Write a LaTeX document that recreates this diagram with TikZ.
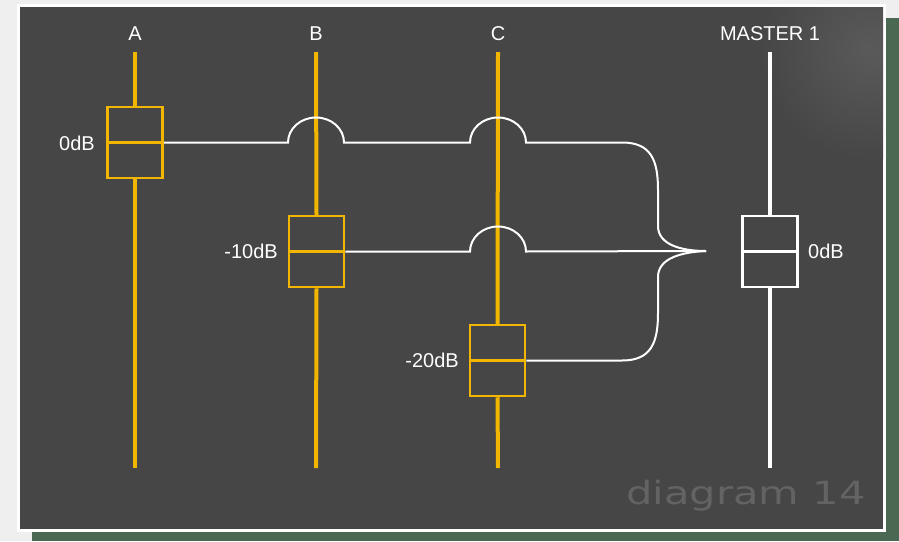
\documentclass[tikz,border=0pt]{standalone}
\usepackage{fontspec}
\setmainfont{Liberation Sans}
\newfontfamily\markfont{DejaVu Sans}
\definecolor{outerbg}{HTML}{EFEFEF}
\definecolor{shadowgreen}{HTML}{4A6852}
\definecolor{panel}{HTML}{464646}
\definecolor{panellight}{HTML}{5A5A5A}
\definecolor{fader}{HTML}{F2B600}
\definecolor{markgray}{HTML}{636363}
\begin{document}
\begin{tikzpicture}[x=1pt,y=-1pt,
  track/.style={line width=4pt},
  knob/.style={rectangle, line width=2.5pt, minimum width=55pt, minimum height=71pt, inner sep=0pt},
  lab/.style={text=white, inner sep=0pt, font=\fontsize{20}{20}\selectfont},
  wire/.style={draw=white, line width=2pt},
  hoparc/.style={start angle=180, end angle=0, x radius=28pt, y radius=25pt}]
\useasboundingbox (0,0) rectangle (899,541);
\fill[outerbg] (0,0) rectangle (899,541);
\fill[shadowgreen] (32,18) rectangle (899,541);
\fill[white] (17,4) rectangle (886,532);
\fill[panel] (20,7) rectangle (883,529);
% faint texture
\begin{scope}
\clip (20,7) rectangle (883,529);
\shade[inner color=panellight, outer color=panel] (870,50) circle [radius=110pt];
\end{scope}

% watermark
\node[text=markgray, inner sep=0pt, font=\fontsize{32}{32}\markfont] (wm) at (746,496) {\scalebox{1.3}[1]{diagram 14}};

% column labels
\node[lab] (labA) at (135,34) {A};
\node[lab] (labB) at (316,34) {B};
\node[lab] (labC) at (498,34) {C};
\node[lab] (labM) at (770,34) {MASTER 1};

% track ends
\coordinate (topA) at (135,52); \coordinate (botA) at (135,468);
\coordinate (topB) at (316,52); \coordinate (botB) at (316,468);
\coordinate (topC) at (498,52); \coordinate (botC) at (498,468);
\coordinate (topM) at (770,52); \coordinate (botM) at (770,468);

% knobs
\node[knob, draw=fader] (kA) at (135,142.5) {};
\node[knob, draw=fader] (kB) at (316.5,251.5) {};
\node[knob, draw=fader] (kC) at (497.5,360.5) {};
\node[knob, draw=white] (kM) at (770,251.5) {};

\draw[track, draw=fader] (topA) -- (kA.north) (kA.south) -- (botA);
\draw[track, draw=fader] (topB) -- (kB.north) (kB.south) -- (botB);
\draw[track, draw=fader] (topC) -- (kC.north) (kC.south) -- (botC);
\draw[track, draw=white] (topM) -- (kM.north) (kM.south) -- (botM);

\draw[draw=fader, line width=2.5pt] (kA.west) -- (kA.east);
\draw[draw=fader, line width=2.5pt] (kB.west) -- (kB.east);
\draw[draw=fader, line width=2.5pt] (kC.west) -- (kC.east);
\draw[draw=white, line width=2.5pt] (kM.west) -- (kM.east);

% level labels
\node[lab, anchor=east] (lvA) at (95,143) {0dB};
\node[lab, anchor=east] (lvB) at (278,251) {-10dB};
\node[lab, anchor=east] (lvC) at (459,360) {-20dB};
\node[lab, anchor=west] (lvM) at (808,251) {0dB};

% converge point
\coordinate (conv) at (706,251);

% wires
\draw[wire] (kA.east) -- (288,142.5) arc[hoparc]
  -- (470,142.5) arc[hoparc]
  -- (622,142.5) .. controls (651,142.5) and (658,160) .. (658,190) -- (658,226)
  .. controls (658,245) and (682,251) .. (conv);
\draw[wire] (kB.east) -- (470,251.5) arc[hoparc]
  -- (conv);
\draw[wire] (kC.east) -- (622,360.5) .. controls (651,360.5) and (658,343) .. (658,313) -- (658,277)
  .. controls (658,258) and (682,252) .. (conv);
\end{tikzpicture}
\end{document}
